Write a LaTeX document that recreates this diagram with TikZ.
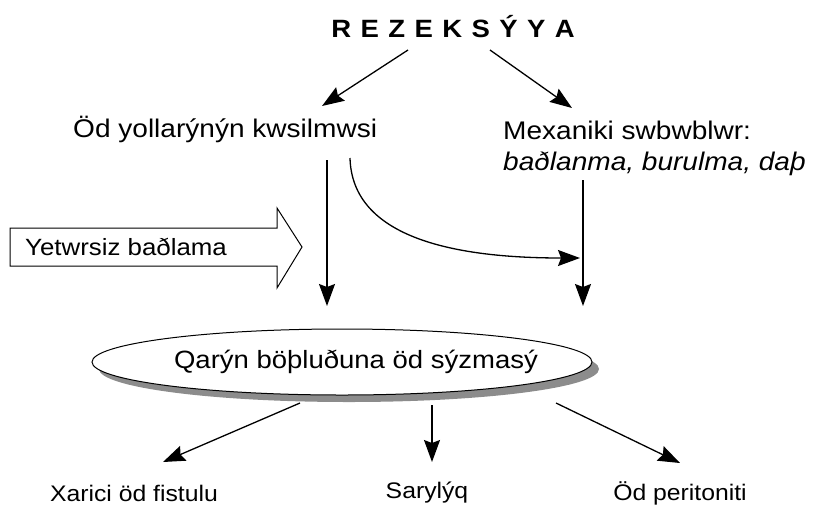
\documentclass[tikz,border=0pt]{standalone}
\usepackage{fontspec}
\setmainfont[FakeStretch=1.1]{Liberation Sans}
\usetikzlibrary{arrows.meta,shapes.geometric,shadows}
\tikzset{
  conn/.style={line width=1.3pt,-{Stealth[length=22pt,width=16pt,inset=3pt]}},
  lbl/.style={inner sep=0pt,font=\fontsize{25.5}{30}\selectfont},
  small/.style={inner sep=0pt,font=\fontsize{23.5}{28}\selectfont},
  bot/.style={inner sep=0pt,font=\fontsize{22.5}{27}\selectfont},
}
\begin{document}
\begin{tikzpicture}[x=1pt,y=-1pt]
\useasboundingbox (0,0) rectangle (840,515);
% title
\node[inner sep=0pt,font=\fontsize{25}{29}\selectfont\bfseries] (tit) at (453,27) {\spaceskip=9.4pt R E Z E K S Ý Y A};
% second row
\node[lbl,anchor=base west] (ody) at (73,137) {Öd yollarýnýn kwsilmwsi};
\node[lbl,anchor=base west] (mech) at (503,139) {Mexaniki swbwblwr:};
\node[lbl,anchor=base west] (mech2) at (503,170) {\itshape baðlanma, burulma, daþ};
% connectors from title
\coordinate (t1) at (408,50);
\coordinate (t2) at (490,50);
\coordinate (h1) at (322,106);
\coordinate (h2) at (572,108);
\draw[conn] (t1) -- (h1);
\draw[conn] (t2) -- (h2);
% block arrow
\draw[line width=1pt] (10,228) -- (277,228) -- (277,208) -- (302,247) -- (277,288) -- (277,266) -- (10,266) -- cycle;
\node[small,anchor=west] (yet) at (25,247) {Yetwrsiz baðlama};
% ellipse
\node[ellipse,draw,line width=1pt,fill=white,minimum width=500pt,minimum height=66pt,inner sep=0pt,
  drop shadow={shadow xshift=7pt,shadow yshift=-7pt,fill=black!45,opacity=1}] (leak) at (342,362) {};
\node[inner sep=0pt,font=\fontsize{25}{29}\selectfont] (leaktxt) at (356,362) {Qarýn böþluðuna öd sýzmasý};
% vertical arrows and curve
\coordinate (v1s) at (327,160);
\coordinate (v1e) at (327,306);
\coordinate (v2s) at (583,180);
\coordinate (v2e) at (583,306);
\coordinate (cs) at (350,158);
\coordinate (ce) at (580,258);
\draw[conn] (v1s) -- (v1e);
\draw[conn] (v2s) -- (v2e);
\draw[conn] (cs) .. controls (352,232) and (440,258) .. (ce);
% bottom
\node[bot] (xar) at (134,493) {Xarici öd fistulu};
\node[bot] (sar) at (427,493) {Sarylýq};
\node[bot] (per) at (680,493) {Öd peritoniti};
\coordinate (b1) at (300,403);
\coordinate (b2) at (432,405);
\coordinate (b3) at (556,403);
\draw[conn] (b1) -- (163,462);
\draw[conn] (b2) -- (432,462);
\draw[conn] (b3) -- (680,463);
\end{tikzpicture}
\end{document}
